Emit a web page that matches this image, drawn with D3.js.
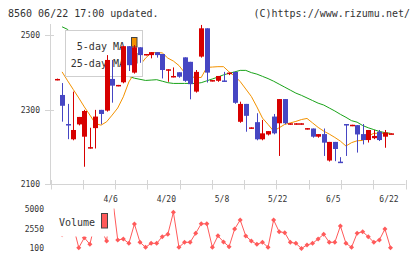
<!DOCTYPE html>
<meta charset="utf-8">
<head>
<title>8560 chart</title>
<style>
  body { margin: 0; background: #fff; }
  text { font-family: "DejaVu Sans Mono", monospace; fill: #333; }
</style>
</head>
<body>
<script src="https://cdn.jsdelivr.net/npm/d3@7/dist/d3.min.js"></script>
<script>

// daily candles, oldest first (last = 6/22)
var open  = [2381,2339,2261,2220,2260,2227,2198,2250,2299,2297,2382,2365,2373,2470,2399,2467,2448,2446,2454,2449,
             2407,2389,2400,2440,2428,2348,2442,2518,2378,2377,2378,2395,2401,2267,2315,2251,2266,2220,2233,2281,
             2263,2328,2262,2262,2262,2249,2249,2227,2234,2163,2213,2160,2261,2258,2258,2234,2218,2223,2240,2227,2236];
var high  = [2383,2371,2315,2348,2280,2299,2251,2299,2299,2446,2433,2366,2470,2470,2473,2467,2449,2454,2454,2449,
             2408,2413,2400,2440,2428,2406,2527,2518,2379,2390,2401,2399,2401,2321,2315,2252,2290,2272,2242,2288,
             2328,2328,2263,2263,2263,2250,2249,2234,2249,2213,2213,2172,2261,2259,2258,2261,2245,2245,2245,2245,2236];
var low   = [2381,2270,2223,2220,2260,2149,2198,2198,2263,2297,2321,2365,2373,2406,2399,2428,2448,2440,2442,2386,
             2377,2389,2388,2377,2330,2348,2442,2375,2378,2377,2377,2395,2318,2267,2243,2251,2220,2220,2233,2236,
             2178,2263,2262,2262,2262,2249,2227,2227,2178,2163,2164,2160,2178,2258,2187,2209,2214,2223,2218,2200,2236];
var close = [2382,2310,2260,2245,2280,2296,2199,2281,2288,2433,2364,2366,2470,2419,2467,2446,2449,2454,2446,2406,
             2408,2390,2388,2377,2368,2401,2518,2399,2379,2390,2377,2399,2318,2315,2283,2252,2220,2236,2242,2236,
             2328,2263,2263,2263,2263,2250,2227,2234,2211,2213,2194,2159,2260,2259,2233,2218,2245,2229,2218,2238,2236];

var ma5  = [null,2401,2377,2354,2331,2307,2285,2262,2258,2267,2285,2304,2334,2374,2398,2419,2438,2452,2453,2452,
            2438,2430,2418,2399,2388,2386,2386,2413,2414,2415,2415,2401,2390,2375,2355,2335,2307,2277,2260,2242,
            2251,2260,2264,2268,2273,2276,2264,2252,2242,2234,2225,2215,2202,2211,2216,2217,2229,2236,2236,2236,2234];
var ma25 = [null,2522,2515,2500,2484,2468,2454,2441,2430,2419,2411,2403,2395,2389,2384,2381,2378,2379,2380,2376,
            2372,2370,2370,2370,2370,2370,2372,2377,2382,2387,2393,2397,2401,2405,2405,2399,2395,2389,2383,2376,
            2368,2360,2352,2344,2338,2331,2324,2317,2312,2304,2296,2287,2279,2270,2266,2257,2251,2246,2241,2238,2236];

var volume = [2000,1800,2200,2900,175,1420,600,3540,2500,1000,6800,1140,1260,720,3130,850,225,720,720,1550,
              1850,4590,225,850,850,1970,3150,3150,225,1650,900,300,2500,3630,1640,1010,600,850,225,3630,
              2170,2050,850,720,80,510,720,1260,1850,850,850,2880,720,225,1970,2170,1550,850,1140,2500,175];

var dateTicks  = [10, 20, 30, 40, 50, 60];
var dateLabels = ["4/6", "4/20", "5/8", "5/22", "6/5", "6/22"];
var priceTicks = [2100, 2300, 2500];
var volTicks   = [100, 2550, 5000];

var W = 420, H = 259;
var UP = "#d70000", DOWN = "#4646c3", C5 = "#f39200", C25 = "#19a319", CV = "#ff5a5a", GRID = "#d4d4d4";

var svg = d3.select("body").append("svg")
    .attr("width", W).attr("height", H);

var idx = d3.range(open.length);
var x = d3.scaleLinear().domain([0, 60]).range([56.5, 390.5]);
var y = d3.scaleLinear().domain([2100, 2500]).range([184, 35]);
var vy = d3.scaleLinear().domain([100, 5000]).range([248.3, 209]);

// header
svg.append("text").attr("x", 8).attr("y", 16.5).style("font-size", "10px")
    .text("8560 06/22 17:00 updated.");
svg.append("text").attr("x", 410).attr("y", 16.5).attr("text-anchor", "end").style("font-size", "10px")
    .text("(C)https://www.rizumu.net/");

// frame: left and bottom lines with short ticks
svg.append("line").attr("x1", 50.5).attr("x2", 50.5).attr("y1", 24).attr("y2", 184.5)
    .attr("stroke", GRID);
svg.append("line").attr("x1", 50).attr("x2", 405.5).attr("y1", 184.5).attr("y2", 184.5)
    .attr("stroke", GRID);

var gridX = d3.scaleLinear().domain([0, 11]).range([50.5, 405.5]);
svg.selectAll("line.vtick").data(d3.range(12)).enter().append("line")
    .attr("x1", function(d) { return Math.round(gridX(d)) + 0.5; })
    .attr("x2", function(d) { return Math.round(gridX(d)) + 0.5; })
    .attr("y1", 180).attr("y2", 189.5)
    .attr("stroke", GRID);

svg.selectAll("line.ytick").data(priceTicks).enter().append("line")
    .attr("x1", 45).attr("x2", 54)
    .attr("y1", function(d) { return Math.round(y(d)) + 0.5; })
    .attr("y2", function(d) { return Math.round(y(d)) + 0.5; })
    .attr("stroke", GRID);

svg.selectAll("text.ylab").data(priceTicks).enter().append("text")
    .attr("x", 40).attr("y", function(d) { return y(d) + 3; })
    .attr("text-anchor", "end").style("font-size", "8px")
    .text(function(d) { return d; });

svg.selectAll("text.xlab").data(dateTicks).enter().append("text")
    .attr("x", function(d) { return x(d) - 1.5; }).attr("y", 202)
    .attr("text-anchor", "middle").style("font-size", "8px")
    .text(function(d, i) { return dateLabels[i]; });

// moving averages
var maLine = function(arr) {
  return d3.line()
    .defined(function(i) { return arr[i] != null; })
    .x(function(i) { return x(i); })
    .y(function(i) { return y(arr[i]); });
};
svg.append("path").attr("d", maLine(ma25)(idx)).attr("fill", "none").attr("stroke", C25).attr("stroke-width", 1);
svg.append("path").attr("d", maLine(ma5)(idx)).attr("fill", "none").attr("stroke", C5).attr("stroke-width", 1);

// legend (sits under the candles)
svg.append("rect").attr("x", 65.5).attr("y", 30.5).attr("width", 77).attr("height", 46)
    .attr("fill", "#fff").attr("stroke", "#cfcfcf");
svg.append("text").attr("x", 125).attr("y", 50).attr("text-anchor", "end").style("font-size", "10px").text("5-day MA");
svg.append("text").attr("x", 125).attr("y", 66.5).attr("text-anchor", "end").style("font-size", "10px").text("25-day MA");
svg.append("rect").attr("x", 131.5).attr("y", 37.5).attr("width", 5.5).attr("height", 9.5)
    .attr("fill", C5).attr("stroke", "#444");
svg.append("rect").attr("x", 131.5).attr("y", 53.5).attr("width", 5.5).attr("height", 9.5)
    .attr("fill", C25).attr("stroke", "#444");

// candles
var candles = svg.append("g");
candles.selectAll("line.wick").data(idx).enter().append("line")
    .attr("x1", function(i) { return Math.round(x(i)) + 0.5; })
    .attr("x2", function(i) { return Math.round(x(i)) + 0.5; })
    .attr("y1", function(i) { return y(high[i]); })
    .attr("y2", function(i) { return y(low[i]) + 1; })
    .attr("stroke", function(i) { return close[i] >= open[i] ? UP : DOWN; });
candles.selectAll("rect.body").data(idx).enter().append("rect")
    .attr("x", function(i) { return Math.round(x(i)) - 2; })
    .attr("width", 5)
    .attr("y", function(i) { return y(Math.max(open[i], close[i])); })
    .attr("height", function(i) { return Math.max(1.5, Math.abs(y(open[i]) - y(close[i]))); })
    .attr("fill", function(i) { return close[i] >= open[i] ? UP : DOWN; });

// volume panel
svg.append("clipPath").attr("id", "vclip").append("rect")
    .attr("x", 50).attr("y", 208.5).attr("width", 360).attr("height", 46);
var vg = svg.append("g").attr("clip-path", "url(#vclip)");
vg.append("path")
    .attr("d", d3.line().x(function(i) { return x(i); }).y(function(i) { return vy(volume[i]); })(idx))
    .attr("fill", "none").attr("stroke", CV).attr("stroke-width", 1);
vg.selectAll("path.dot").data(idx).enter().append("path")
    .attr("d", d3.symbol(d3.symbolSquare, 12.5))
    .attr("transform", function(i) { return "translate(" + x(i) + "," + vy(volume[i]) + ") rotate(45)"; })
    .attr("fill", CV);

svg.selectAll("text.vlab").data(volTicks).enter().append("text")
    .attr("x", 44).attr("y", function(d) { return vy(d) + 3; })
    .attr("text-anchor", "end").style("font-size", "8px")
    .text(function(d) { return d; });

svg.append("rect").attr("x", 52).attr("y", 204).attr("width", 61.5).attr("height", 32.5).attr("fill", "#fff");
svg.append("text").attr("x", 59).attr("y", 226).style("font-size", "10px").text("Volume");
svg.append("rect").attr("x", 101.5).attr("y", 213.5).attr("width", 6).attr("height", 14.5)
    .attr("fill", CV).attr("stroke", "#444");

</script>
</body>
